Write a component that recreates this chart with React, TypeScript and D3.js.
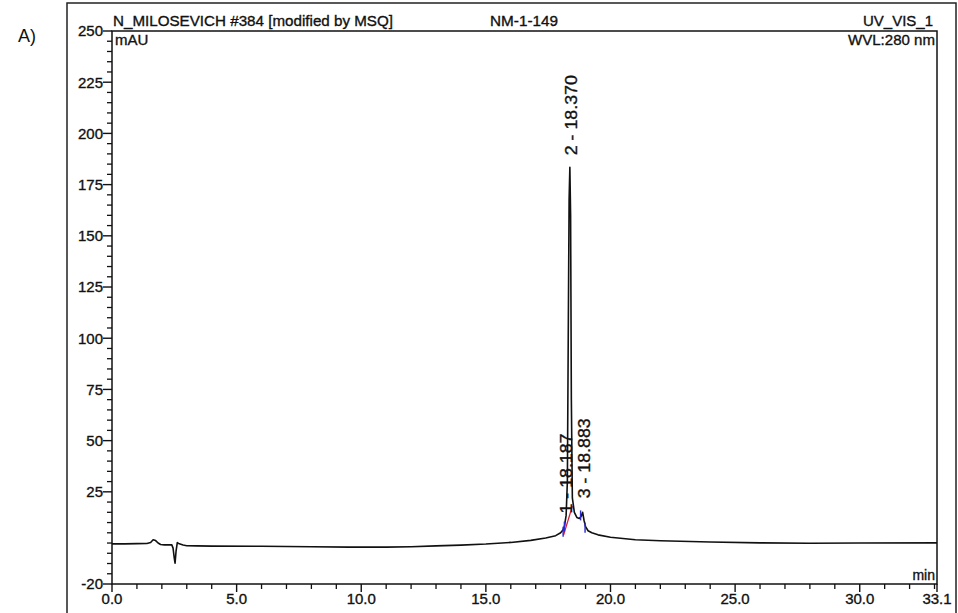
import React from "react";
import * as d3 from "d3";

// Chromatogram trace: retention time (min) and absorbance (mAU)
const TIME = [
  0.0, 0.5, 1.0, 1.4, 1.55, 1.65, 1.75, 1.85, 1.95, 2.1, 2.4, 2.45, 2.5, 2.53, 2.57, 2.62, 2.7, 2.85, 3.0,
  3.4, 4.0, 6.0, 8.0, 9.5, 11.0, 12.0, 13.0, 14.0, 15.0, 16.0, 16.8, 17.4, 17.8, 18.0, 18.1, 18.16,
  18.187, 18.22, 18.27, 18.31, 18.34, 18.37, 18.40, 18.43, 18.47, 18.55, 18.65, 18.75, 18.82, 18.883,
  18.94, 19.0, 19.1, 19.25, 19.5, 20.0, 21.0, 22.0, 24.0, 26.0, 28.0, 30.0, 33.1,
];
const ABS = [
  -0.4, -0.4, -0.3, -0.2, 0.3, 1.6, 1.2, 0.0, -0.7, -0.9, -0.9, -2.5, -7.5, -9.8, -4.0, 0.2, -0.4, -1.0, -1.3,
  -1.4, -1.5, -1.6, -1.8, -2.0, -2.0, -1.8, -1.4, -1.0, -0.5, 0.3, 1.3, 2.5, 3.6, 5.0, 6.5, 8.5,
  11.0, 13.5, 30.0, 110.0, 168.0, 183.5, 160.0, 70.0, 22.0, 15.0, 12.5, 12.0, 13.0, 15.0,
  11.0, 8.0, 6.0, 5.0, 4.0, 2.8, 1.6, 1.1, 0.5, 0.1, -0.1, 0.0, 0.1,
];

// Integrated peaks
const PEAK_LABELS = ["1 - 18.187", "2 - 18.370", "3 - 18.883"];
const PEAK_TIMES = [18.187, 18.37, 18.883];
const PEAK_HEIGHTS = [11.0, 183.5, 15.0];
const PEAK_LABEL_LIFT = [7, 12, 14];

// Integration baseline (red) and peak delimiters (blue)
const BASELINE_TIMES = [18.12, 18.47];
const BASELINE_VALUES = [4.0, 18.0];
const DELIMITER_TIMES = [18.1, 18.15, 18.8, 18.98];
const DELIMITER_VALUES = [5.5, 8.0, 13.5, 7.5];

// Axis ticks
const Y_MAJOR = [250, 225, 200, 175, 150, 125, 100, 75, 50, 25, -20];
const Y_LABELS = ["250", "225", "200", "175", "150", "125", "100", "75", "50", "25", "-20"];
const X_MAJOR = [0, 5, 10, 15, 20, 25, 30, 33.1];
const X_LABELS = ["0.0", "5.0", "10.0", "15.0", "20.0", "25.0", "30.0", "33.1"];

const FONT = "'Liberation Sans', Arial, Helvetica, sans-serif";
const INK = "#111";
// thin outline thickens the printed-looking labels a little
const TXT = { fill: INK, stroke: INK, strokeWidth: 0.35 };

export default function App() {
  const left = 112;
  const right = 937;
  const top = 31;
  const bottom = 584;

  const x = d3.scaleLinear().domain([0, 33.1]).range([left, right]);
  const y = d3.scaleLinear().domain([-20, 250]).range([bottom, top]);

  const pts: [number, number][] = TIME.map((t, i) => [t, ABS[i]]);
  const line = d3
    .line<[number, number]>()
    .x((d) => x(d[0]))
    .y((d) => y(d[1]));

  const yMinor = d3.range(-20, 251, 5).filter((v) => !Y_MAJOR.includes(v));
  const xMinor = d3.range(0, 34, 1).filter((v) => v % 5 !== 0);

  return (
    <svg
      width={958}
      height={613}
      style={{ position: "absolute", left: 0, top: 0, background: "#fff" }}
      fontFamily={FONT}
    >
      <rect x={0} y={0} width={958} height={613} fill="#fff" />
      {/* panel frame */}
      <rect x={67} y={3} width={889} height={640} fill="none" stroke="#222" strokeWidth={1.5} />
      <text x={18} y={42} fontSize={18} fill={INK}>
        A)
      </text>

      {/* header */}
      <text x={113} y={26} fontSize={15} {...TXT} textLength={280} lengthAdjust="spacingAndGlyphs">
        N_MILOSEVICH #384 [modified by MSQ]
      </text>
      <text x={490} y={26} fontSize={15} {...TXT} textLength={68} lengthAdjust="spacingAndGlyphs">
        NM-1-149
      </text>
      <text x={933} y={26} fontSize={15} {...TXT} textAnchor="end" textLength={70} lengthAdjust="spacingAndGlyphs">
        UV_VIS_1
      </text>

      {/* plot box */}
      <rect x={left} y={top} width={right - left} height={bottom - top} fill="none" stroke={INK} strokeWidth={1.5} />
      <text x={115} y={45} fontSize={15} {...TXT}>
        mAU
      </text>
      <text x={935} y={45} fontSize={15} {...TXT} textAnchor="end" textLength={87} lengthAdjust="spacingAndGlyphs">
        WVL:280 nm
      </text>
      <text x={935} y={580} fontSize={14} {...TXT} textAnchor="end">
        min
      </text>

      {/* y axis */}
      {Y_MAJOR.map((v, i) => (
        <g key={"ym" + v}>
          <line x1={left - 9} x2={left} y1={y(v)} y2={y(v)} stroke={INK} strokeWidth={1.4} />
          <text x={left - 9} y={y(v)} dy="0.36em" fontSize={15} textAnchor="end" {...TXT}>
            {Y_LABELS[i]}
          </text>
        </g>
      ))}
      {yMinor.map((v) => (
        <line key={"yn" + v} x1={left - 5} x2={left} y1={y(v)} y2={y(v)} stroke={INK} strokeWidth={1.3} />
      ))}

      {/* x axis */}
      {X_MAJOR.map((v, i) => (
        <g key={"xm" + v}>
          <line x1={x(v)} x2={x(v)} y1={bottom} y2={bottom + 8} stroke={INK} strokeWidth={1.4} />
          <text x={x(v)} y={bottom + 20} fontSize={15} textAnchor="middle" {...TXT}>
            {X_LABELS[i]}
          </text>
        </g>
      ))}
      {xMinor.map((v) => (
        <line key={"xn" + v} x1={x(v)} x2={x(v)} y1={bottom} y2={bottom + 5} stroke={INK} strokeWidth={1.3} />
      ))}

      {/* trace */}
      <path d={line(pts) ?? ""} fill="none" stroke={INK} strokeWidth={1.6} strokeLinejoin="round" />

      {/* integration marks */}
      <line
        x1={x(BASELINE_TIMES[0])}
        y1={y(BASELINE_VALUES[0])}
        x2={x(BASELINE_TIMES[1])}
        y2={y(BASELINE_VALUES[1])}
        stroke="#d0203a"
        strokeWidth={1.3}
      />
      {DELIMITER_TIMES.map((t, i) => (
        <line
          key={"dl" + i}
          x1={x(t)}
          x2={x(t)}
          y1={y(DELIMITER_VALUES[i]) - 5}
          y2={y(DELIMITER_VALUES[i]) + 5}
          stroke="#2a2ad0"
          strokeWidth={1.4}
        />
      ))}

      {/* peak labels */}
      {PEAK_LABELS.map((lab, i) => {
        const px = x(PEAK_TIMES[i]) + 7;
        const py = y(PEAK_HEIGHTS[i]) - PEAK_LABEL_LIFT[i];
        return (
          <text
            key={lab}
            transform={`translate(${px},${py}) rotate(-90)`}
            fontSize={16}
            {...TXT}
            textLength={80}
            lengthAdjust="spacingAndGlyphs"
          >
            {lab}
          </text>
        );
      })}
    </svg>
  );
}
